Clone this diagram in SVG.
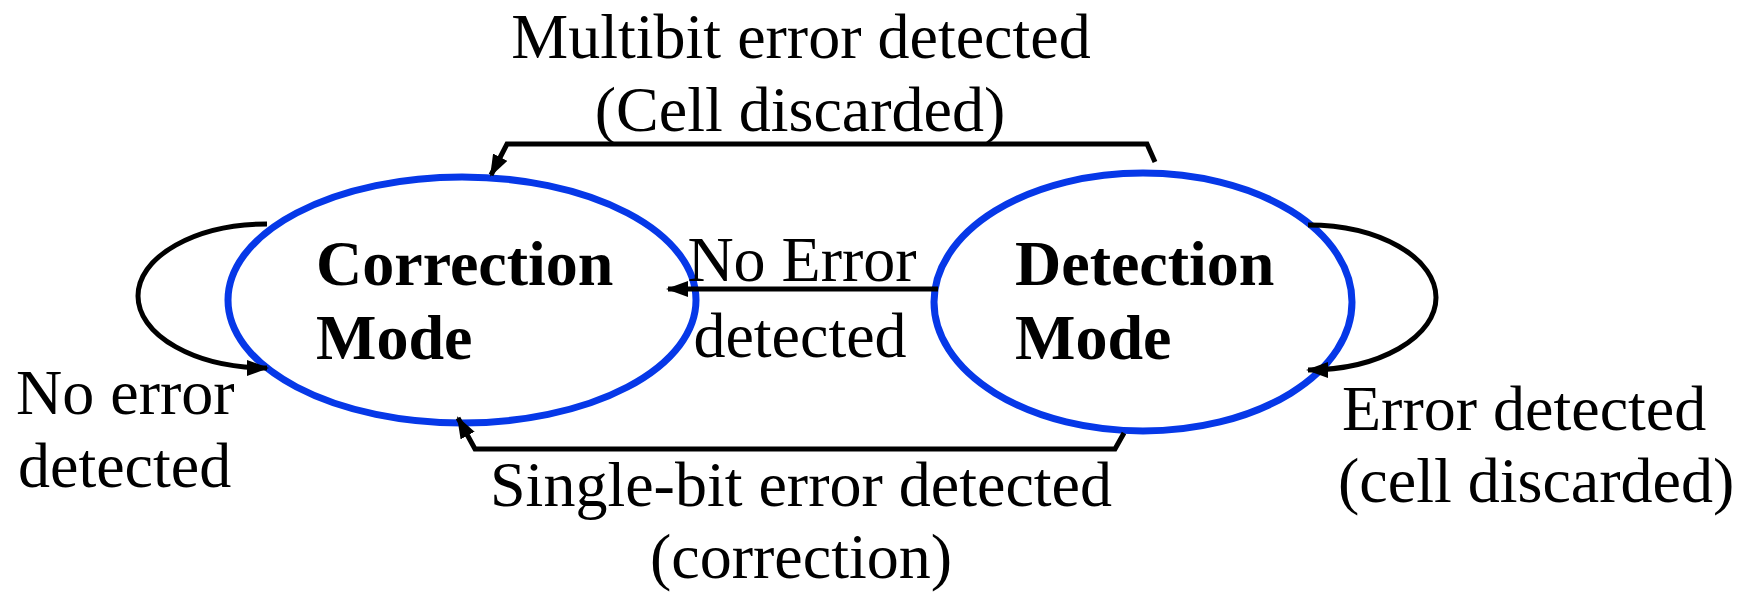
<svg xmlns="http://www.w3.org/2000/svg" width="1749" height="592" viewBox="0 0 1749 592">
<defs>
<style>
.t{font-family:"Liberation Serif","Times New Roman",serif;font-size:64px;fill:#000}
.b{font-weight:bold}
.m{text-anchor:middle}
.st{fill:none;stroke:#0638E8;stroke-width:7}
.c{fill:none;stroke:#000;stroke-width:5}
</style>
<marker id="ah" viewBox="0 0 22 16" refX="20" refY="8" markerWidth="22" markerHeight="16" markerUnits="userSpaceOnUse" orient="auto">
<path d="M0,0 L22,8 L0,16 z" fill="#000"/>
</marker>
</defs>
<rect width="1749" height="592" fill="#fff"/>
<g id="correction">
<ellipse class="st" cx="462" cy="300" rx="234" ry="123"/>
<text class="t b" x="316" y="285">Correction</text>
<text class="t b" x="316" y="359">Mode</text>
</g>
<g id="detection">
<ellipse class="st" cx="1143" cy="302" rx="209" ry="129"/>
<text class="t b" x="1015" y="285">Detection</text>
<text class="t b" x="1015" y="359">Mode</text>
</g>
<g id="connectors">
<path class="c" d="M1155,162 L1147,144 L507,144 L491,175" marker-end="url(#ah)"/>
<path class="c" d="M1124,433 L1115,449 L475,449 L458,418" marker-end="url(#ah)"/>
<path class="c" d="M938,289 L668,289" marker-end="url(#ah)"/>
<path class="c" d="M267,224 A129,72 0 0,0 267,368" marker-end="url(#ah)"/>
<path class="c" d="M1308,225 A128,72.5 0 0,1 1308,370" marker-end="url(#ah)"/>
</g>
<g id="labels">
<text class="t m" x="801" y="58">Multibit error detected</text>
<text class="t m" x="800" y="131">(Cell discarded)</text>
<text class="t m" x="802" y="281">No Error</text>
<text class="t m" x="800" y="357">detected</text>
<text class="t" x="16" y="414">No error</text>
<text class="t" x="18" y="487">detected</text>
<text class="t" x="1342" y="430">Error detected</text>
<text class="t" x="1338" y="502">(cell discarded)</text>
<text class="t m" x="801" y="506">Single-bit error detected</text>
<text class="t m" x="801" y="578">(correction)</text>
</g>
</svg>
